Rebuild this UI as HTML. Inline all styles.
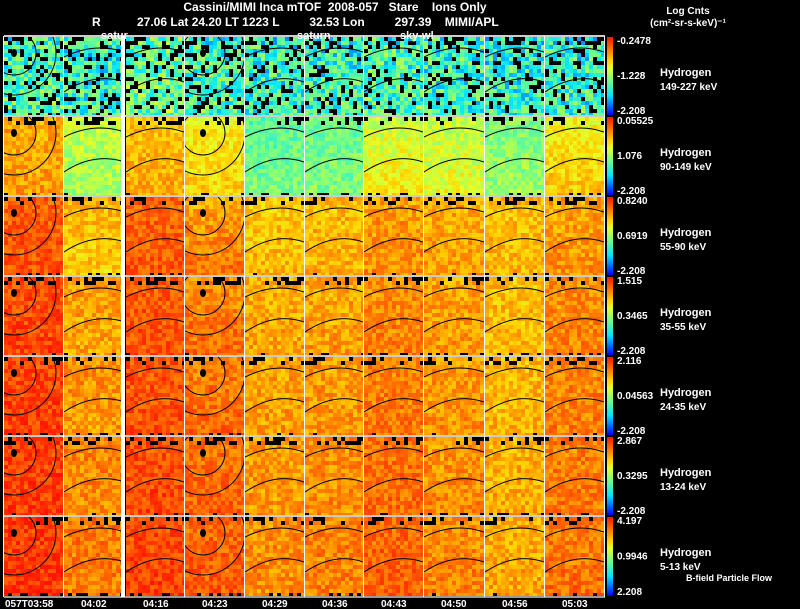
<!DOCTYPE html>
<html><head><meta charset="utf-8">
<style>
body{margin:0;background:#000;width:800px;height:609px;overflow:hidden;font-family:"Liberation Sans",sans-serif;color:#fff}
svg{position:absolute;left:0;top:0}
text{font-family:"Liberation Sans",sans-serif;fill:#fff}
</style></head><body>
<svg id="chart" width="800" height="609">
<defs id="defs"></defs>
<text x="335" y="11" font-size="12" font-weight="bold" text-anchor="middle" xml:space="preserve">Cassini/MIMI Inca mTOF  2008-057   Stare    Ions Only</text>
<text x="92" y="26" font-size="12" font-weight="bold">R</text>
<text x="137" y="26" font-size="12" font-weight="bold" xml:space="preserve">27.06 Lat 24.20 LT 1223 L         32.53 Lon         297.39    MIMI/APL</text>
<text x="688" y="14" font-size="10" font-weight="bold" text-anchor="middle">Log Cnts</text>
<text x="688" y="26" font-size="10" font-weight="bold" text-anchor="middle">(cm²-sr-s-keV)⁻¹</text>
<g id="panels"></g>
<text x="101" y="39" font-size="11" font-weight="bold">satur</text>
<text x="297" y="39" font-size="11" font-weight="bold">saturn</text>
<text x="400" y="39" font-size="11" font-weight="bold">sky-wl</text>
<text x="729" y="581" font-size="9" font-weight="bold" text-anchor="middle">B-field Particle Flow</text>
</svg>
<script>
const times=["057T03:58","04:02","04:16","04:23","04:29","04:36","04:43","04:50","04:56","05:03"];
const energies=["149-227 keV","90-149 keV","55-90 keV","35-55 keV","24-35 keV","13-24 keV","5-13 keV"];
const cbarTop=["-0.2478","0.05525","0.8240","1.515","2.116","2.867","4.197"];
const cbarMid=["-1.228","1.076","0.6919","0.3465","0.04563","0.3295","0.9946"];
const cbarBot=["-2.208","-2.208","-2.208","-2.208","-2.208","-2.208","2.208"];
const levelTop=[
[0.36,0.33,0.40,0.36,0.33,0.32,0.36,0.34,0.32,0.33],
[0.76,0.56,0.72,0.64,0.40,0.42,0.56,0.55,0.45,0.62],
[0.88,0.74,0.86,0.76,0.70,0.72,0.78,0.75,0.72,0.76],
[0.90,0.78,0.88,0.80,0.75,0.76,0.80,0.77,0.72,0.80],
[0.91,0.80,0.89,0.82,0.77,0.78,0.82,0.78,0.73,0.81],
[0.92,0.82,0.90,0.84,0.78,0.80,0.84,0.79,0.74,0.82],
[0.93,0.84,0.91,0.86,0.80,0.82,0.86,0.80,0.75,0.83]];
const levelBot=[
[0.38,0.35,0.42,0.38,0.36,0.35,0.38,0.36,0.34,0.35],
[0.78,0.50,0.76,0.70,0.46,0.46,0.66,0.62,0.50,0.72],
[0.90,0.70,0.89,0.85,0.74,0.75,0.80,0.78,0.74,0.80],
[0.92,0.76,0.90,0.86,0.77,0.78,0.83,0.79,0.74,0.82],
[0.93,0.78,0.91,0.87,0.78,0.79,0.84,0.80,0.75,0.83],
[0.94,0.80,0.92,0.88,0.79,0.80,0.86,0.81,0.76,0.84],
[0.95,0.82,0.93,0.89,0.80,0.82,0.88,0.82,0.77,0.85]];
const texture=[0.05,-0.04,0.08,-0.07,0.02,-0.02,0.06,-0.05,-0.06,0.03,-0.01,0.07,-0.08,0.04,0.0,-0.03,0.07,-0.05,0.03,-0.02,0.06,-0.07,0.01,0.04,-0.03,0.02,-0.06,0.05,-0.01,0.03,-0.04];
const NS="http://www.w3.org/2000/svg";
const g=document.getElementById('panels');
const defs=document.getElementById('defs');
const colX=[4,64,126,185,245,305,364,424,485,545,605];
const rowY=[36,116,196,276,356,436,516,597];
function cmap(v){v=Math.max(0,Math.min(1,v));
 const st=[[0,0,0,255],[0.25,0,230,255],[0.45,120,255,130],[0.6,230,255,40],[0.7,255,210,0],[0.82,255,130,0],[1,255,20,0]];
 for(let i=1;i<st.length;i++){if(v<=st[i][0]){const a=st[i-1],b=st[i],t=(v-a[0])/(b[0]-a[0]);
 return `rgb(${Math.round(a[1]+(b[1]-a[1])*t)},${Math.round(a[2]+(b[2]-a[2])*t)},${Math.round(a[3]+(b[3]-a[3])*t)})`;}}return 'rgb(255,0,0)';}
function mk(tag,attrs){const e=document.createElementNS(NS,tag);for(const k in attrs)e.setAttribute(k,attrs[k]);return e;}
function h(i,j,c,r){return ((i*i*7+j*j*3+i*j*11+i*5+j*13+c*17+r*29)%31+31)%31;}
for(let r=0;r<7;r++){
 for(let c=0;c<10;c++){
  const x0=colX[c],x1=colX[c+1]-1,y0=rowY[r]+1,y1=rowY[r+1]-1;
  const cp=mk('clipPath',{id:'cp'+r+'_'+c});
  cp.appendChild(mk('rect',{x:x0,y:y0,width:x1-x0,height:y1-y0}));
  defs.appendChild(cp);
  const pg=mk('g',{'clip-path':'url(#cp'+r+'_'+c+')'});
  
  
  const nx=Math.ceil((x1-x0)/4),ny=Math.ceil((y1-y0)/4);
  for(let j=0;j<ny;j++)for(let i=0;i<nx;i++){
   const t=j/(ny-1);
   const k=h(i,j,c,r);
   let v=levelTop[r][c]+(levelBot[r][c]-levelTop[r][c])*t+texture[k]*(r==0?2.2:1);
   let col=cmap(v);
   const k2=h(j,i,r,c);
   if((j<2&&k2<9)||(j==ny-1&&k2<6)||(r==0&&k2<6))col='#000';
   const cell=mk('rect',{x:x0+i*4,y:y0+j*4,width:4,height:4,fill:col});
   
   
   pg.appendChild(cell);
  }
  if(c==0||c==3){
   const cx=x0+(c==0?10:18),cy=y0+16;
   [22,42].forEach(rad=>{const a=mk('circle',{cx:cx,cy:cy,r:rad,fill:'none',stroke:'#000','stroke-width':1});
    pg.appendChild(a);});
   const d=mk('ellipse',{cx:cx,cy:cy,rx:3,ry:4,fill:'#000'});
   pg.appendChild(d);
  } else {
   const p=mk('path',{d:`M${x0} ${y0+20} Q${x0+30} ${y0+5} ${x1} ${y0+15} M${x0} ${y0+55} Q${x0+30} ${y0+35} ${x1} ${y0+45}`,fill:'none',stroke:'#000','stroke-width':1});
   pg.appendChild(p);
  }
  g.appendChild(pg);
 }
 const grad=mk('linearGradient',{id:'cb'+r,x1:0,y1:1,x2:0,y2:0});
 [0,0.25,0.45,0.6,0.7,0.82,1].forEach(o=>{grad.appendChild(mk('stop',{offset:o,'stop-color':cmap(o)}));});
 defs.appendChild(grad);
 const cb=mk('rect',{x:607,y:rowY[r]+1,width:6,height:rowY[r+1]-rowY[r]-2,fill:'url(#cb'+r+')'});
 
 
 g.appendChild(cb);
 const lbl=[[cbarTop[r],rowY[r]+8],[cbarMid[r],(rowY[r]+rowY[r+1])/2+3],[cbarBot[r],rowY[r+1]-2]];
 lbl.forEach((L,i)=>{const t=mk('text',{x:617,y:L[1],'font-size':10,'font-weight':'bold'});t.textContent=L[0];
  g.appendChild(t);});
 const h1=mk('text',{x:660,y:rowY[r]+40,'font-size':11,'font-weight':'bold'});h1.textContent='Hydrogen';
 g.appendChild(h1);
 const h2=mk('text',{x:660,y:rowY[r]+54,'font-size':10,'font-weight':'bold'});h2.textContent=energies[r];
 g.appendChild(h2);
}
for(let r=0;r<8;r++){const l=mk('rect',{x:4,y:rowY[r]-1,width:601,height:2,fill:r==7?'#999':'#ccc'});
 g.appendChild(l);}
for(let c=0;c<11;c++){const l=mk('rect',{x:colX[c]-1,y:36,width:c==2?4:1,height:561,fill:'#fff'});
 if(c==2)l.setAttribute('x',121);
 g.appendChild(l);}
times.forEach((tm,c)=>{const t=mk('text',{x:c==0?5:colX[c]+17,y:607,'font-size':10,'font-weight':'bold'});t.textContent=tm;
 g.appendChild(t);});
</script>
</body></html>
